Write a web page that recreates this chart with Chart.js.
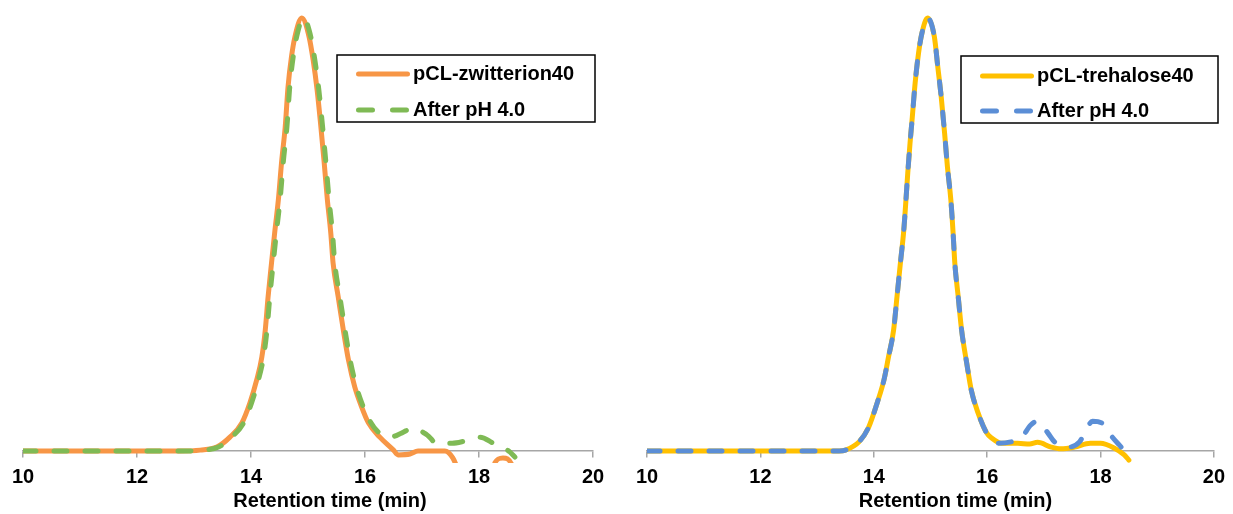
<!DOCTYPE html>
<html>
<head>
<meta charset="utf-8">
<script src="https://cdn.jsdelivr.net/npm/chart.js@4.4.1/dist/chart.umd.min.js"></script>
<style>
  html, body { margin: 0; padding: 0; background: #fff; }
  body { width: 1233px; height: 514px; position: relative; overflow: hidden; }
  .panel { position: absolute; top: 0; height: 514px; }
  #leftPanel { left: 0; width: 620px; }
  #rightPanel { left: 620px; width: 613px; }
</style>
</head>
<body>
<div class="panel" id="leftPanel"><canvas id="zwitChart" width="620" height="514"></canvas></div>
<div class="panel" id="rightPanel"><canvas id="treChart" width="613" height="514"></canvas></div>
<script>
// x axis ticks (retention time, min)
const xTicks = [10, 12, 14, 16, 18, 20];

// left panel: pCL-zwitterion40
const zwitTime = [10, 12.75, 13.11, 13.40, 13.63, 13.84, 13.98, 14.10, 14.19, 14.25, 14.30, 14.36, 14.42, 14.48, 14.54, 14.60, 14.65, 14.71, 14.77, 14.89, 15.02, 15.09, 15.16, 15.22, 15.28, 15.34, 15.40, 15.44, 15.53, 15.62, 15.71, 15.82, 15.94, 16.06, 16.26, 16.50, 16.58, 16.79, 16.93, 17.40, 17.54, 17.63, 17.75, 18.20, 18.28, 18.42, 18.58, 18.70];
const zwitVals = [0, 0, 0.002, 0.009, 0.032, 0.065, 0.111, 0.164, 0.217, 0.279, 0.356, 0.434, 0.510, 0.580, 0.672, 0.748, 0.841, 0.910, 0.956, 1.0, 0.956, 0.903, 0.834, 0.757, 0.672, 0.580, 0.503, 0.434, 0.356, 0.279, 0.210, 0.148, 0.102, 0.065, 0.032, 0.002, -0.009, -0.007, 0, 0, -0.016, -0.044, -0.10, -0.10, -0.027, -0.016, -0.033, -0.10];

// left panel: after pH 4.0
const zwitAcidTime = [10, 12.78, 13.14, 13.43, 13.66, 13.87, 14.01, 14.13, 14.22, 14.28, 14.33, 14.39, 14.45, 14.51, 14.57, 14.63, 14.68, 14.74, 14.80, 14.92, 15.05, 15.12, 15.19, 15.25, 15.31, 15.37, 15.43, 15.47, 15.56, 15.65, 15.74, 15.85, 15.97, 16.09, 16.23, 16.44, 16.65, 16.84, 17.09, 17.26, 17.53, 17.75, 18.02, 18.25, 18.54, 18.63];
const zwitAcidVals = [0, 0, 0.002, 0.009, 0.032, 0.065, 0.111, 0.164, 0.217, 0.279, 0.356, 0.434, 0.510, 0.580, 0.672, 0.748, 0.841, 0.910, 0.956, 1.0, 0.956, 0.903, 0.834, 0.757, 0.672, 0.580, 0.503, 0.434, 0.356, 0.279, 0.210, 0.148, 0.102, 0.068, 0.044, 0.032, 0.042, 0.053, 0.037, 0.018, 0.018, 0.023, 0.032, 0.018, -0.002, -0.014];

// right panel: pCL-trehalose40
const treTime = [10, 13.39, 13.50, 13.74, 13.91, 14.06, 14.18, 14.26, 14.35, 14.41, 14.47, 14.53, 14.56, 14.60, 14.64, 14.68, 14.73, 14.79, 14.85, 14.95, 15.07, 15.13, 15.19, 15.25, 15.30, 15.36, 15.40, 15.43, 15.49, 15.55, 15.64, 15.72, 15.84, 15.99, 16.08, 16.25, 16.54, 16.75, 16.89, 17.13, 17.30, 17.54, 17.82, 18.00, 18.24, 18.42, 18.50];
const treVals = [0, 0, 0.002, 0.021, 0.055, 0.111, 0.164, 0.217, 0.279, 0.356, 0.434, 0.510, 0.564, 0.642, 0.711, 0.771, 0.850, 0.919, 0.965, 1.0, 0.956, 0.887, 0.818, 0.734, 0.656, 0.580, 0.503, 0.434, 0.356, 0.279, 0.203, 0.141, 0.088, 0.042, 0.030, 0.018, 0.018, 0.016, 0.020, 0.009, 0.005, 0.009, 0.018, 0.018, 0.007, -0.009, -0.021];

// right panel: after pH 4.0
const treAcidTime = [10, 13.39, 13.50, 13.74, 13.91, 14.06, 14.18, 14.26, 14.35, 14.41, 14.47, 14.53, 14.56, 14.60, 14.64, 14.68, 14.73, 14.79, 14.85, 14.95, 15.07, 15.13, 15.19, 15.25, 15.30, 15.36, 15.40, 15.43, 15.49, 15.55, 15.64, 15.72, 15.84, 15.99, 16.08, 16.19, 16.42, 16.60, 16.77, 16.89, 17.07, 17.19, 17.42, 17.63, 17.77, 17.86, 18.07, 18.18, 18.33, 18.47];
const treAcidVals = [0, 0, 0.002, 0.021, 0.055, 0.111, 0.164, 0.217, 0.279, 0.356, 0.434, 0.510, 0.564, 0.642, 0.711, 0.771, 0.850, 0.919, 0.965, 1.0, 0.956, 0.887, 0.818, 0.734, 0.656, 0.580, 0.503, 0.434, 0.356, 0.279, 0.203, 0.141, 0.088, 0.042, 0.030, 0.018, 0.021, 0.030, 0.060, 0.069, 0.042, 0.021, 0.009, 0.021, 0.055, 0.069, 0.060, 0.037, 0.014, -0.005];

const FONT = '"Liberation Sans", Arial, sans-serif';

function toPoints(times, vals) {
  return times.map((t, i) => ({ x: t, y: vals[i] }));
}

// Legend drawn as a framed box, like the original
const boxLegend = {
  id: 'boxLegend',
  afterDraw(chart, args, opts) {
    const ctx = chart.ctx;
    ctx.save();
    ctx.lineWidth = 1.5;
    ctx.strokeStyle = '#000';
    ctx.setLineDash([]);
    ctx.strokeRect(opts.x, opts.y, opts.w, opts.h);
    chart.data.datasets.forEach((ds, i) => {
      const rowY = opts.y + opts.rows[i];
      ctx.beginPath();
      ctx.lineWidth = ds.borderWidth;
      ctx.strokeStyle = ds.borderColor;
      ctx.lineCap = 'round';
      ctx.setLineDash(ds.borderDash && ds.borderDash.length ? [14, 20] : []);
      ctx.moveTo(opts.x + 21.5, rowY);
      ctx.lineTo(opts.x + 70.5, rowY);
      ctx.stroke();
      ctx.setLineDash([]);
      ctx.fillStyle = '#000';
      ctx.font = 'bold 20px ' + FONT;
      ctx.textBaseline = 'middle';
      ctx.textAlign = 'left';
      ctx.fillText(ds.label, opts.x + 76, rowY);
    });
    ctx.restore();
  }
};

// x axis title, a bit right of centre as in the original
const axisTitle = {
  id: 'axisTitle',
  afterDraw(chart, args, opts) {
    const { ctx, chartArea } = chart;
    ctx.save();
    ctx.font = 'bold 20px ' + FONT;
    ctx.fillStyle = '#000';
    ctx.textAlign = 'center';
    ctx.textBaseline = 'alphabetic';
    ctx.fillText(opts.text, (chartArea.left + chartArea.right) / 2 + opts.shift, opts.y);
    ctx.restore();
  }
};

function makeChart(id, solid, dashed, padding, legendPos, shift) {
  const ctx = document.getElementById(id).getContext('2d');
  return new Chart(ctx, {
    type: 'line',
    data: {
      datasets: [
        {
          label: solid.label,
          data: solid.data,
          borderColor: solid.color,
          borderWidth: 5,
          borderDash: [],
          order: 2
        },
        {
          label: dashed.label,
          data: dashed.data,
          borderColor: dashed.color,
          borderWidth: 5,
          borderDash: [13, 18],
          order: 1
        }
      ]
    },
    options: {
      responsive: false,
      animation: false,
      layout: { padding: padding },
      elements: {
        point: { radius: 0, hoverRadius: 0 },
        line: {
          fill: false,
          cubicInterpolationMode: 'monotone',
          borderCapStyle: 'round',
          borderJoinStyle: 'round'
        }
      },
      scales: {
        x: {
          type: 'linear',
          position: { y: 0 },
          min: 10,
          max: 20,
          afterBuildTicks: (scale) => { scale.ticks = xTicks.map(v => ({ value: v })); },
          grid: { drawOnChartArea: false, drawTicks: true, tickLength: 6, color: '#a6a6a6', lineWidth: 1.5 },
          border: { color: '#a6a6a6', width: 1.5 },
          ticks: { color: '#000', padding: 8, maxRotation: 0, font: { family: FONT, size: 20, weight: 'bold' } }
        },
        y: {
          display: false,
          min: -0.0277,
          max: 1.03
        }
      },
      plugins: {
        legend: { display: false },
        tooltip: { enabled: false },
        boxLegend: legendPos,
        axisTitle: { text: 'Retention time (min)', shift: shift, y: 507 }
      }
    },
    plugins: [boxLegend, axisTitle]
  });
}

makeChart('zwitChart',
  { label: 'pCL-zwitterion40', data: toPoints(zwitTime, zwitVals), color: '#f79646' },
  { label: 'After pH 4.0', data: toPoints(zwitAcidTime, zwitAcidVals), color: '#7fba55' },
  { left: 23, right: 27, top: 5, bottom: 51 },
  { x: 337, y: 55, w: 258, h: 67, rows: [19, 55] },
  22
);

makeChart('treChart',
  { label: 'pCL-trehalose40', data: toPoints(treTime, treVals), color: '#ffc000' },
  { label: 'After pH 4.0', data: toPoints(treAcidTime, treAcidVals), color: '#5b8ed6' },
  { left: 27, right: 16, top: 5, bottom: 51 },
  { x: 341, y: 56, w: 257, h: 67, rows: [20, 55] },
  25
);
</script>
</body>
</html>
